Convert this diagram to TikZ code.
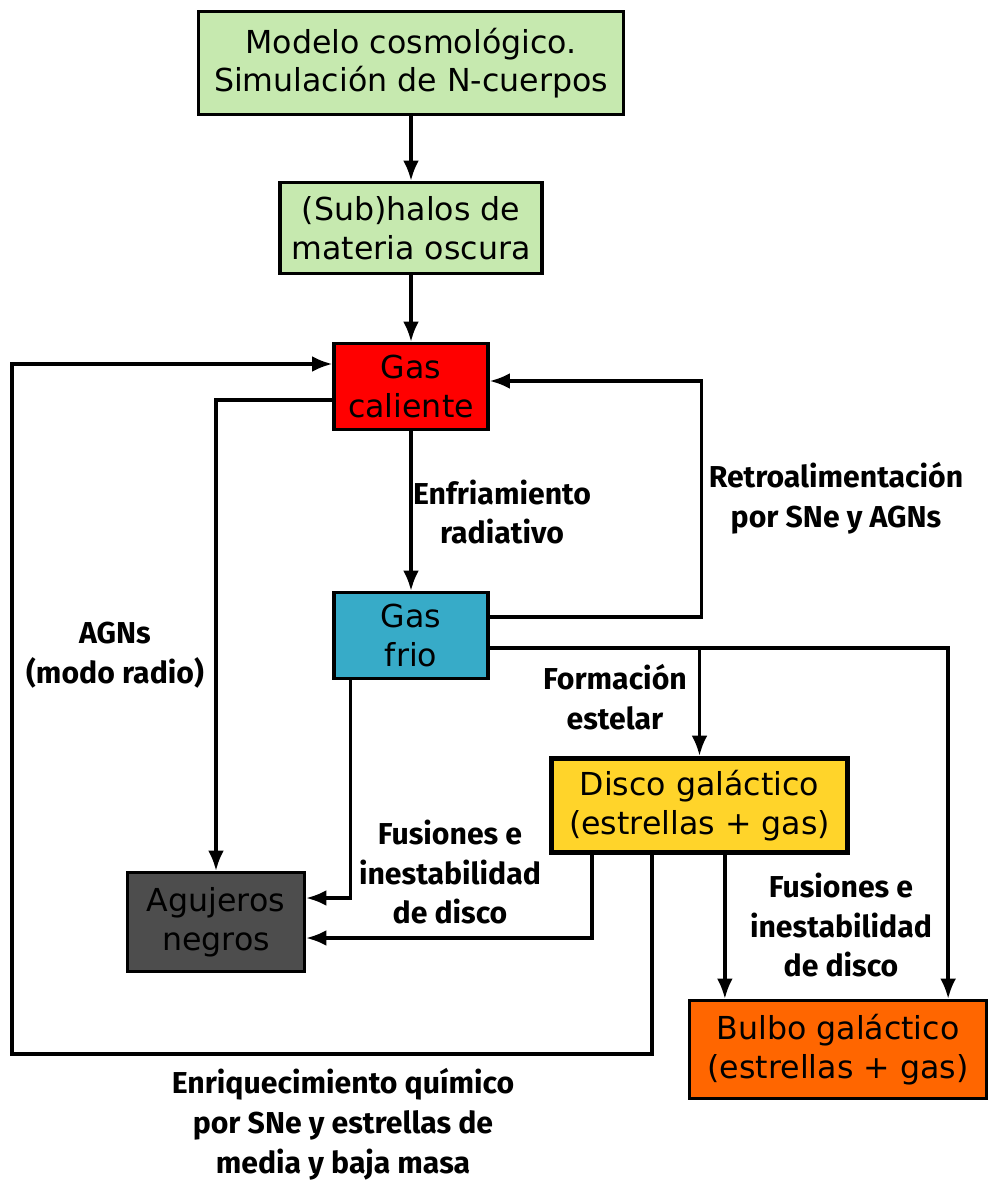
\documentclass[tikz,border=0pt]{standalone}
\usepackage{fontspec}
\setmainfont{DejaVu Sans}
\newfontfamily\labelfont{Fira Sans}
\usetikzlibrary{arrows.meta, positioning, calc}
\definecolor{halocol}{RGB}{198,233,175}
\definecolor{hotcol}{RGB}{255,0,0}
\definecolor{coldcol}{RGB}{55,171,200}
\definecolor{diskcol}{RGB}{255,212,42}
\definecolor{bhcol}{RGB}{77,77,77}
\definecolor{bulgecol}{RGB}{255,102,0}
\tikzset{
  box/.style={draw=black, line width=1.9pt, align=center, inner sep=0pt,
              font=\fontsize{18}{22}\selectfont},
  flow/.style={-{Latex[length=11.5pt,width=9pt]}, line width=1.9pt},
  lbl/.style={font=\labelfont\bfseries\fontsize{17.2}{22.7}\selectfont, align=center}
}

\begin{document}
\begin{tikzpicture}[x=0.02cm,y=-0.02cm]
\useasboundingbox (0,0) rectangle (990,1182);

% ── Boxes ─────────────────────────────────────────────
\node[box, fill=halocol, minimum width=8.5cm, minimum height=2.06cm]
     (modelo) at (411,63) {Modelo cosmológico.\\Simulación de N-cuerpos};
\node[box, fill=halocol, minimum width=5.24cm, minimum height=1.82cm]
     (halos) at (411,228) {(Sub)halos de\\materia oscura};
\node[box, fill=hotcol, minimum width=3.08cm, minimum height=1.72cm]
     (caliente) at (411,386.5) {Gas\\caliente};
\node[box, fill=coldcol, minimum width=3.08cm, minimum height=1.72cm]
     (frio) at (411,635.5) {Gas\\frio};
\node[box, fill=diskcol, line width=3pt, minimum width=5.92cm, minimum height=1.88cm]
     (disco) at (699.5,805.5) {Disco galáctico\\(estrellas + gas)};
\node[box, fill=bhcol, text=black, minimum width=3.54cm, minimum height=1.98cm]
     (agujeros) at (216,922) {Agujeros\\negros};
\node[box, fill=bulgecol, minimum width=5.94cm, minimum height=1.96cm]
     (bulbo) at (838,1049.5) {Bulbo galáctico\\(estrellas + gas)};

% ── Labels ────────────────────────────────────────────
\node[lbl] (enfr) at (502,512) {Enfriamiento\\radiativo};
\node[lbl] (retro) at (836,498) {Retroalimentación\\por SNe y AGNs};
\node[lbl] (agnradio) at (115,655) {AGNs\\(modo radio)};
\node[lbl] (formacion) at (615,697) {Formación\\estelar};
\node[lbl] (fusizq) at (450,872) {Fusiones e\\inestabilidad\\de disco};
\node[lbl] (fusder) at (841,925) {Fusiones e\\inestabilidad\\de disco};
\node[lbl] (enriq) at (343,1124) {Enriquecimiento químico\\por SNe y estrellas de\\media y baja masa};

% ── Connectors ────────────────────────────────────────
\draw[flow] (modelo) -- (halos);
\draw[flow] (halos) -- (caliente);
\draw[flow] (caliente) -- (frio);

% feedback
\draw[flow] ($(frio.east)+(0,-18.5)$) -- ++(212,0) |- ($(caliente.east)+(0,-5.5)$);
% radio mode
\draw[flow] ($(caliente.west)+(0,13.5)$) -| (agujeros.north);
\draw[flow] ($(frio.south west)+(18,0)$) |- ($(agujeros.east)+(0,-24)$);

% star formation
\draw[flow] ($(frio.east)+(0,12.5)$) -| (disco.north);
\draw[flow] ($(frio.east)+(0,12.5)$) -| ($(bulbo.north east)+(-40,0)$);

% mergers
\coordinate (bin) at ($(bulbo.north west)+(37,0)$);
\draw[flow] (bin |- disco.south) -- (bin);
\draw[flow] ($(disco.south west)+(43,0)$) |- ($(agujeros.east)+(0,16)$);

% chemical enrichment
\draw[flow] ($(disco.south west)+(103,0)$) -- ++(0,199) -- ++(-640,0)
            |- ($(caliente.west)+(0,-22.5)$);

\end{tikzpicture}
\end{document}
